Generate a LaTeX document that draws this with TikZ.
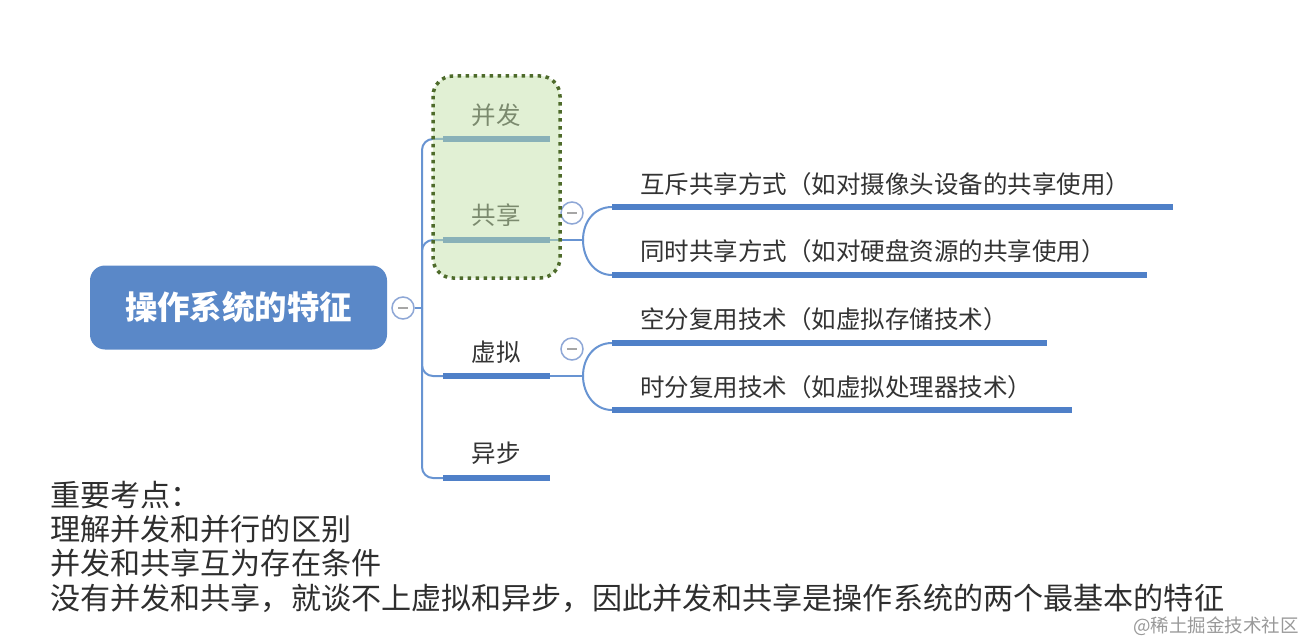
\documentclass[tikz,border=0pt]{standalone}
\usepackage{fontspec}
\setmainfont{Noto Sans CJK SC}
\usepackage{xcolor}
\usepackage{tikz}
\usetikzlibrary{calc, positioning, backgrounds}
\definecolor{rootblue}{RGB}{90,136,200}
\definecolor{barblue}{RGB}{79,128,200}
\definecolor{linkblue}{RGB}{104,148,210}
\definecolor{ringblue}{RGB}{142,167,214}
\definecolor{boxgreen}{RGB}{196,226,170}
\definecolor{dotgreen}{RGB}{78,107,43}
\definecolor{inkgray}{RGB}{51,51,51}
\tikzset{
    rootnode/.style = {draw=none, fill=rootblue, rectangle, rounded corners=15pt, minimum width=297pt,
      minimum height=84pt, text=white, font=\fontsize{32.4}{36}\selectfont\bfseries},
    topicnode/.style = {draw=none, fill=none, rectangle, inner sep=0pt, text=inkgray,
      font=\fontsize{24.5}{28}\selectfont},
    itemnode/.style = {topicnode, anchor=west},
    notenode/.style = {draw=none, fill=none, rectangle, inner sep=0pt, anchor=west, text=black!82,
      font=\fontsize{30.1}{34}\selectfont},
    marknode/.style = {draw=none, fill=none, inner sep=0pt, anchor=west, text=black!40,
      font=\fontsize{18.5}{20}\selectfont},
    foldnode/.style = {circle, draw=ringblue, line width=1.5pt, fill=white, minimum size=22pt, inner sep=0pt,
      path picture={\draw[gray!70, line width=1.5pt] ([xshift=-5pt]path picture bounding box.center)
        -- ([xshift=5pt]path picture bounding box.center);}},
    topicbar/.style = {barblue, line width=6pt},
    branchline/.style = {linkblue, line width=2pt, rounded corners=11pt},
    groupbox/.style = {draw=dotgreen, fill=boxgreen, fill opacity=0.5, line width=3.5pt,
      dash pattern=on 3.5pt off 4.5pt, rounded corners=20pt}
}

\begin{document}
\begin{tikzpicture}[x=1pt, y=-1pt]
\useasboundingbox (0,0) rectangle (1311,639);
% root
\node[rootnode, name=root] at (238.5,307.5) {操作系统的特征};
\node[foldnode, name=rootfold] at (403,308) {};
\coordinate (trunk) at (422,308);
% topics
\node[topicnode, name=bingfa] at (496,115) {并发};
\node[topicnode, name=gongxiang] at (496,215) {共享};
\node[topicnode, name=xuni] at (496,352) {虚拟};
\node[topicnode, name=yibu] at (496,453) {异步};
\coordinate (bingfa-l) at (443,139);    \coordinate (bingfa-r) at (550,139);
\coordinate (gongxiang-l) at (443,240); \coordinate (gongxiang-r) at (550,240);
\coordinate (xuni-l) at (443,376);      \coordinate (xuni-r) at (550,376);
\coordinate (yibu-l) at (443,478);      \coordinate (yibu-r) at (550,478);
\draw[branchline] (rootfold.east) -- (trunk);
\draw[branchline] (trunk) |- (bingfa-l);
\draw[branchline] (trunk) |- (gongxiang-l);
\draw[branchline] (trunk) |- (xuni-l);
\draw[branchline] (trunk) |- (yibu-l);
\draw[topicbar] (bingfa-l) -- (bingfa-r);
\draw[topicbar] (gongxiang-l) -- (gongxiang-r);
\draw[topicbar] (xuni-l) -- (xuni-r);
\draw[topicbar] (yibu-l) -- (yibu-r);
% sharing
\node[itemnode, name=huchi] at (640,184) {互斥共享方式（如对摄像头设备的共享使用）};
\node[itemnode, name=tongshi] at (640,251) {同时共享方式（如对硬盘资源的共享使用）};
\coordinate (huchi-l) at (612,207);   \coordinate (huchi-r) at (1173,207);
\coordinate (tongshi-l) at (612,275); \coordinate (tongshi-r) at (1147,275);
\coordinate (gx-j) at (583,240);
\draw[branchline] (gongxiang-r) -- (gx-j);
\draw[branchline] (gx-j) .. controls (583,222) and (594,207) .. (huchi-l);
\draw[branchline] (gx-j) .. controls (583,258) and (594,275) .. (tongshi-l);
\draw[topicbar] (huchi-l) -- (huchi-r);
\draw[topicbar] (tongshi-l) -- (tongshi-r);
\node[foldnode, name=gxfold] at (572,213) {};
% virtual
\node[itemnode, name=kongfen] at (640,319) {空分复用技术（如虚拟存储技术）};
\node[itemnode, name=shifen] at (640,387) {时分复用技术（如虚拟处理器技术）};
\coordinate (kongfen-l) at (612,343); \coordinate (kongfen-r) at (1047,343);
\coordinate (shifen-l) at (612,410);  \coordinate (shifen-r) at (1072,410);
\coordinate (xn-j) at (583,376);
\draw[branchline] (xuni-r) -- (xn-j);
\draw[branchline] (xn-j) .. controls (583,358) and (594,343) .. (kongfen-l);
\draw[branchline] (xn-j) .. controls (583,393) and (594,410) .. (shifen-l);
\draw[topicbar] (kongfen-l) -- (kongfen-r);
\draw[topicbar] (shifen-l) -- (shifen-r);
\node[foldnode, name=xnfold] at (572,349) {};
% group of concurrency and sharing
\draw[groupbox] (433,76) rectangle (560,278);
% notes
\node[notenode, name=note1] at (50,495) {重要考点：};
\node[notenode, name=note2] at (50,529) {理解并发和并行的区别};
\node[notenode, name=note3] at (50,563) {并发和共享互为存在条件};
\node[notenode, name=note4] at (50,598) {没有并发和共享，就谈不上虚拟和异步，因此并发和共享是操作系统的两个最基本的特征};
\node[marknode, name=mark] at (1133,626) {@稀土掘金技术社区};
\end{tikzpicture}
\end{document}
